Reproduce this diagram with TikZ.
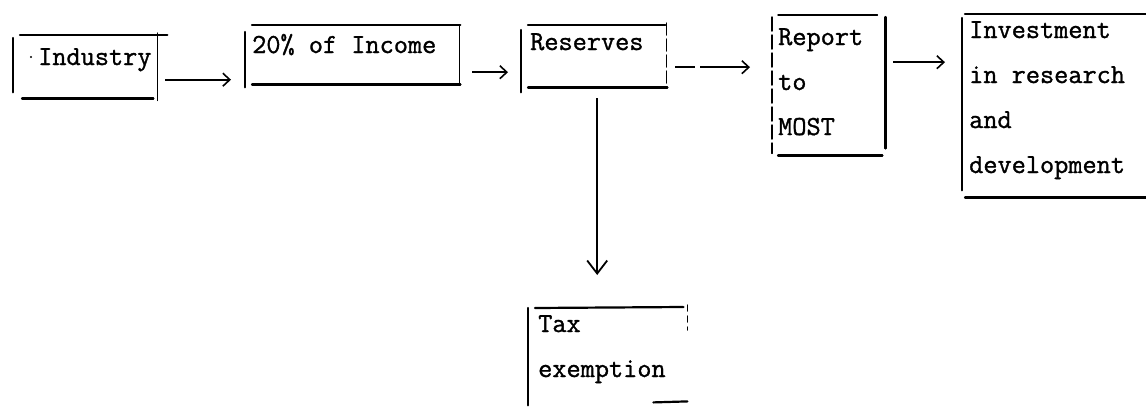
\documentclass[tikz,border=0pt]{standalone}
\usepackage{fontspec}
\newfontfamily\typewriter[FakeBold=1.2]{Latin Modern Mono}
\usetikzlibrary{arrows.meta,calc}
\begin{document}
\begin{tikzpicture}[x=1pt,y=-1pt,
  edgeline/.style={line width=2.2pt, line cap=round},
  thinedge/.style={line width=1.5pt, line cap=round},
  boxarea/.style={rectangle, inner sep=0pt, anchor=north west},
  boxtext/.style={font=\typewriter\fontsize{27.5}{45}\selectfont, inner sep=0pt, anchor=base west, align=left},
  flow/.style={line width=2pt, -{Straight Barb[length=7pt,width=13pt,line width=1.6pt]}},
  bigflow/.style={line width=2pt, -{Straight Barb[length=13pt,width=20pt,line width=1.8pt]}}
]
\useasboundingbox (0,0) rectangle (1146,410);

% box areas
\node[boxarea, minimum width=144pt, minimum height=63pt]  (ind) at (13,35)  {};
\node[boxarea, minimum width=214pt, minimum height=59pt]  (inc) at (245,25) {};
\node[boxarea, minimum width=145pt, minimum height=62pt]  (res) at (521,25) {};
\node[boxarea, minimum width=113pt, minimum height=138pt] (rep) at (772,17) {};
\node[boxarea, minimum width=200pt, minimum height=183pt] (inv) at (962,14) {};
\node[boxarea, minimum width=159pt, minimum height=95pt]  (tax) at (528,308) {};

% box texts (base = baseline of the last line)
\node[boxtext] (indT) at (38,65)  {Industry};
\fill (31,57) circle (1.2pt);
\node[boxtext] (incT) at (252,53) {20\% of Income};
\node[boxtext] (resT) at (530,50) {Reserves};
\node[boxtext] (repT) at (778,135) {Report\\to\\MOST};
\node[boxtext] (invT) at (969,173) {Investment\\in research\\and\\development};
\node[boxtext] (taxT) at (538,377) {Tax\\exemption};

% Industry
\draw[edgeline] ($(ind.north west)+(0,3)$) -- ($(ind.south west)+(0,-6)$);
\draw[edgeline] ($(ind.north west)+(7,0)$) -- ($(ind.north east)+(10,0)$);
\draw[edgeline] ($(ind.south west)+(9,0)$) -- ($(ind.south east)+(-4,0)$);
\draw[thinedge] ($(ind.north east)+(0,-2)$) -- ($(ind.south east)+(0,2)$);

% 20% of Income
\draw[edgeline] ($(inc.north west)+(0,7)$) -- ($(inc.south west)+(0,3)$);
\draw[edgeline] ($(inc.north west)+(7,0)$) -- ($(inc.north east)+(1,0)$);
\draw[edgeline] ($(inc.south west)+(7,0)$) -- ($(inc.south east)+(1,0)$);
\draw[thinedge] ($(inc.north east)+(0,0)$) -- ($(inc.south east)+(0,-1)$);

% Reserves
\draw[edgeline] ($(res.north west)+(0,5)$) -- ($(res.south west)+(0,5)$);
\draw[edgeline] ($(res.north west)+(7,0)$) -- ($(res.north east)+(-1,0)$);
\draw[edgeline] ($(res.south west)+(7,0)$) -- ($(res.south east)+(1,0)$);
\draw[thinedge, dash pattern=on 12pt off 4pt] ($(res.north east)+(0,-2)$) -- ($(res.south east)+(0,-4)$);

% Report to MOST
\draw[thinedge, dash pattern=on 14pt off 4pt] (rep.north west) -- ($(rep.south west)+(0,-2)$);
\draw[thinedge] ($(rep.north west)+(6,-2)$) -- ($(rep.north east)+(-8,-2)$);
\draw[edgeline] ($(rep.south west)+(6,0)$) -- ($(rep.south east)+(-3,0)$);
\draw[edgeline] (rep.north east) -- ($(rep.south east)+(0,-7)$);

% Investment in research and development
\draw[edgeline] ($(inv.north west)+(0,4)$) -- ($(inv.south west)+(0,-7)$);
\draw[edgeline] ($(inv.north west)+(3,0)$) -- (inv.north east);
\draw[edgeline] ($(inv.south west)+(3,0)$) -- (inv.south east);

% Tax exemption
\draw[edgeline] (tax.north west) -- ($(tax.south west)+(0,2)$);
\draw[edgeline] ($(tax.north west)+(7,0)$) -- ($(tax.north east)+(-4,-1)$);
\draw[thinedge, dash pattern=on 6pt off 5pt] ($(tax.north east)+(0,-3)$) -- ($(tax.north east)+(0,22)$);
\draw[edgeline] ($(tax.south east)+(-34,-1)$) -- ($(tax.south east)+(0,-2)$);

% connectors
\coordinate (c1) at ($(ind.east)+(8,13)$);
\draw[flow] (c1) -- ($(inc.west |- c1)+(-14,0)$);
\coordinate (c2) at ($(inc.east)+(13,17.5)$);
\draw[flow] (c2) -- ($(res.west |- c2)+(-13,0)$);
\coordinate (c3) at ($(res.east)+(9,11)$);
\draw[flow, dash pattern=on 20pt off 5pt on 60pt off 0pt] (c3) -- ($(rep.west |- c3)+(-22,0)$);
\coordinate (c4) at ($(rep.east)+(8,-24)$);
\draw[flow] (c4) -- ($(inv.west |- c4)+(-17,0)$);
\coordinate (c5) at ($(res.south)+(3.5,11)$);
\draw[bigflow] (c5) -- ($(tax.north -| c5)+(0,-33)$);
\end{tikzpicture}
\end{document}
